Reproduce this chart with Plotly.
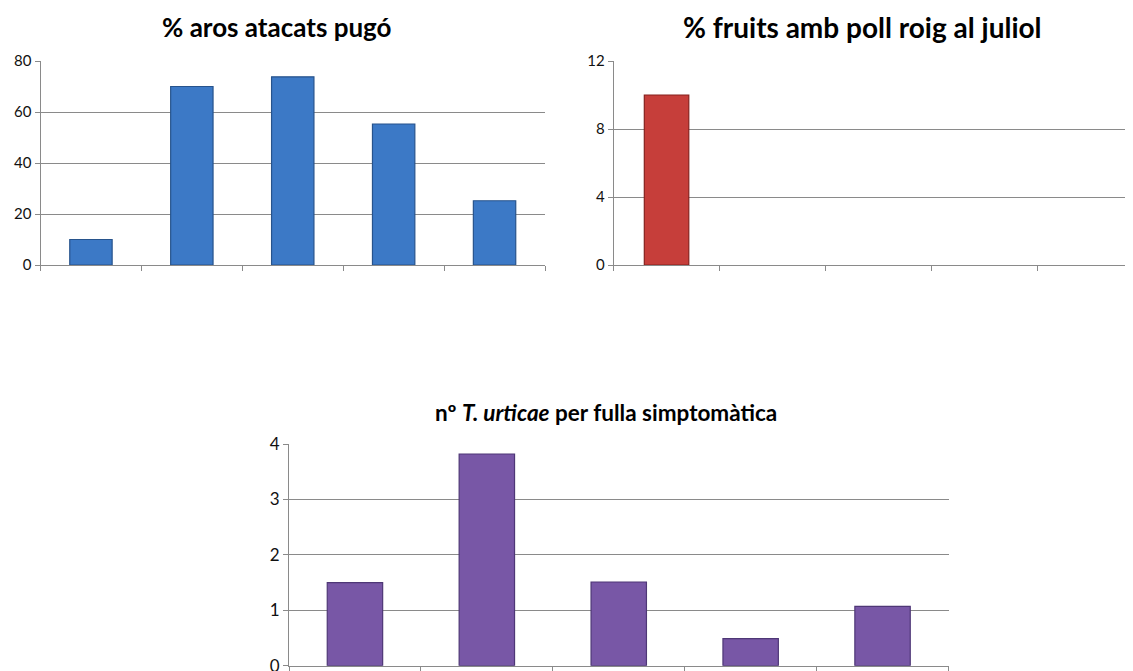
import plotly.graph_objects as go

W, H = 1133, 671
OFF = 8  # page offset of the figure inside the browser window

categories = ["1", "2", "3", "4", "5"]
aros_pugo = [10, 70, 73.8, 55.3, 25.2]
fruits_poll = [10, 0, 0, 0, 0]
urticae = [1.5, 3.82, 1.51, 0.49, 1.07]

title_aros = "% aros atacats pugó"
title_fruits = "% fruits amb poll roig al juliol"
title_urticae = "nº <i>T. urticae</i> per fulla simptomàtica"

ticks_aros = [0, 20, 40, 60, 80]
ticks_fruits = [0, 4, 8, 12]
ticks_urticae = [0, 1, 2, 3, 4]

FONT = "Lato"
GRID = "#8a8a8a"

def px_x(x):
    return (x - OFF) / W

def px_y(y):
    return 1 - (y - OFF) / H

def outline(vals, w=1.2):
    return [w if v else 0 for v in vals]

fig = go.Figure()

fig.add_trace(go.Bar(x=categories, y=aros_pugo, xaxis="x", yaxis="y",
                     width=0.42,
                     marker=dict(color="#3c79c6",
                                 line=dict(color="#27538c", width=outline(aros_pugo)))))
fig.add_trace(go.Bar(x=categories, y=fruits_poll, xaxis="x2", yaxis="y2",
                     width=0.42,
                     marker=dict(color="#c63e3a",
                                 line=dict(color="#85201d", width=outline(fruits_poll)))))
fig.add_trace(go.Bar(x=categories, y=urticae, xaxis="x3", yaxis="y3",
                     width=0.42,
                     marker=dict(color="#7857a6",
                                 line=dict(color="#4e3776", width=outline(urticae)))))

def xaxis(domain, anchor, rng):
    return dict(domain=domain, anchor=anchor, type="category", range=rng,
                showticklabels=False, ticks="outside", tickson="boundaries",
                ticklen=5, tickcolor=GRID, showline=True, linecolor=GRID,
                linewidth=1, showgrid=False, zeroline=False, fixedrange=True)

def yaxis(domain, anchor, vals, top, size):
    return dict(domain=domain, anchor=anchor, range=[0, top], tickvals=vals,
                ticks="outside", ticklen=5, tickcolor=GRID, showline=True,
                linecolor=GRID, linewidth=1, showgrid=True, gridcolor=GRID,
                gridwidth=1, zeroline=False,
                tickfont=dict(family=FONT, size=size, color="#111"),
                fixedrange=True)

top_dom = [px_y(265), px_y(61)]
x2_start = px_x(613.6)
fig.update_layout(
    width=W, height=H,
    margin=dict(l=0, r=0, t=0, b=0, autoexpand=False),
    paper_bgcolor="white", plot_bgcolor="white",
    showlegend=False,
    xaxis=xaxis([px_x(40.5), px_x(545)], "y", [-0.5, 4.5]),
    yaxis=yaxis(top_dom, "x", ticks_aros, 80, 15),
    xaxis2=xaxis([x2_start, 1.0], "y2", [-0.5, -0.5 + (1.0 - x2_start) * W / 105.9]),
    yaxis2=yaxis(top_dom, "x2", ticks_fruits, 12, 15),
    xaxis3=xaxis([px_x(289), px_x(948.5)], "y3", [-0.5, 4.5]),
    yaxis3=yaxis([px_y(665.7), px_y(444)], "x3", ticks_urticae, 4, 17),
    annotations=[
        dict(text="<b>" + title_aros + "</b>", x=px_x(277), y=px_y(27),
             xref="paper", yref="paper", showarrow=False,
             xanchor="center", yanchor="middle",
             font=dict(family=FONT, size=26, color="#000")),
        dict(text="<b>" + title_fruits + "</b>", x=px_x(862), y=px_y(27),
             xref="paper", yref="paper", showarrow=False,
             xanchor="center", yanchor="middle",
             font=dict(family=FONT, size=28, color="#000")),
        dict(text="<b>" + title_urticae + "</b>", x=px_x(606), y=px_y(412),
             xref="paper", yref="paper", showarrow=False,
             xanchor="center", yanchor="middle",
             font=dict(family=FONT, size=22.5, color="#000")),
    ],
)

fig.write_html("out.html")
